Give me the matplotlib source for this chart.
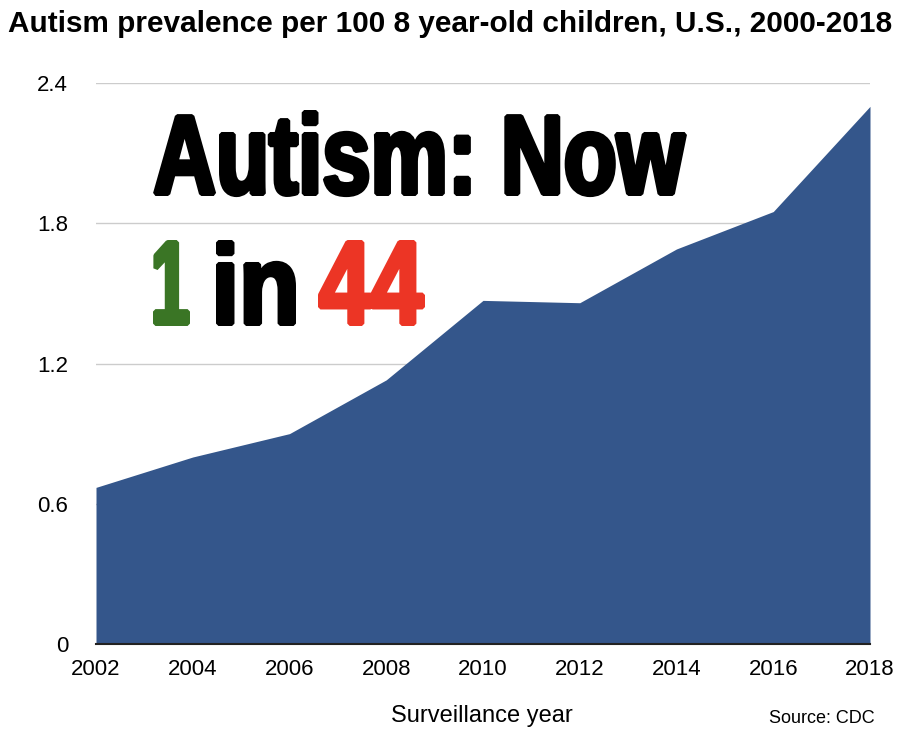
import matplotlib
matplotlib.use("Agg")
import matplotlib.pyplot as plt
from matplotlib.patheffects import AbstractPathEffect
from matplotlib.textpath import TextPath
from matplotlib.font_manager import FontProperties
from matplotlib.transforms import Affine2D

# data (CDC ADDM surveillance, per 100 8-year-olds)
years = [2002, 2004, 2006, 2008, 2010, 2012, 2014, 2016, 2018]
prevalence = [0.67, 0.80, 0.90, 1.13, 1.47, 1.46, 1.69, 1.85, 2.30]
y_ticks = [0, 0.6, 1.2, 1.8, 2.4]
y_labels = ["0", "0.6", "1.2", "1.8", "2.4"]

W, H = 909, 737
plt.rcParams['font.family'] = ['Liberation Sans', 'DejaVu Sans']

fig = plt.figure(figsize=(W / 100, H / 100), dpi=100)
ax = fig.add_axes([96 / W, 1 - 644 / H, (870 - 96) / W, (644 - 83) / H])

ax.fill_between(years, prevalence, 0, color="#34568b", linewidth=0, zorder=2)
ax.set_xlim(2002, 2018)
ax.set_ylim(0, 2.4)
ax.set_xticks(years)
ax.set_xticklabels([str(y) for y in years], fontsize=16)
ax.set_yticks(y_ticks)
ax.set_yticklabels(y_labels, fontsize=16)
ax.tick_params(axis='both', length=0)
ax.tick_params(axis='y', pad=20)
ax.tick_params(axis='x', pad=11)
ax.grid(axis='y', color="#cccccc", linewidth=1, zorder=1)
for s in ["top", "right", "left"]:
    ax.spines[s].set_visible(False)
ax.spines["bottom"].set_color("#222222")
ax.spines["bottom"].set_linewidth(1.5)
ax.spines["bottom"].set_zorder(3)

fig.text(8 / W, 1 - 31.5 / H, "Autism prevalence per 100 8 year-old children, U.S., 2000-2018",
         fontsize=21.4, fontweight='bold', ha='left', va='baseline')
fig.text(482 / W, 1 - 716 / H, "Surveillance year", fontsize=17, ha='center', va='center')
fig.text(875 / W, 1 - 718.5 / H, "Source: CDC", fontsize=13, ha='right', va='center')


# squeeze the big headline horizontally so it looks like a condensed poster font
class Squeeze(AbstractPathEffect):
    def __init__(self, sx, lw):
        super().__init__()
        self.sx = sx
        self.lw = lw

    def draw_path(self, renderer, gc, tpath, affine, rgbFace=None):
        x0, y0 = affine.transform((0, 0))
        aff = affine + Affine2D().translate(-x0, -y0).scale(self.sx, 1).translate(x0, y0)
        gc0 = renderer.new_gc()
        gc0.copy_properties(gc)
        gc0.set_linewidth(self.lw)
        gc0.set_foreground(rgbFace)
        gc0.set_joinstyle('bevel')
        renderer.draw_path(gc0, tpath, aff, rgbFace)
        gc0.restore()


big_font = FontProperties(family='Liberation Sans', weight='bold')
stroke_pt = 3.5
stroke_px = stroke_pt * 100 / 72


def headline(s, color, left, right, top, base):
    # measure the ink at a reference size, then fit into the target box
    ref = TextPath((0, 0), s, size=100, prop=big_font).get_extents()
    size_px = 100 * (base - top - stroke_px) / ref.y1
    ink = TextPath((0, 0), s, size=size_px, prop=big_font).get_extents()
    sx = (right - left - stroke_px) / ink.width
    x = left + stroke_px / 2 - sx * ink.x0
    y = base - stroke_px / 2
    fig.text(x / W, 1 - y / H, s, color=color, fontproperties=big_font,
             fontsize=size_px * 72 / 100, ha='left', va='baseline', zorder=5,
             path_effects=[Squeeze(sx, stroke_pt)])


headline("Autism: Now", "black", 153, 687, 110, 196)
headline("1", "#3a7525", 153, 190, 240, 326)
headline("in", "black", 216, 296, 240, 326)
headline("44", "#ec3525", 318, 425, 240, 326)

fig.savefig("out.png", dpi=100)
